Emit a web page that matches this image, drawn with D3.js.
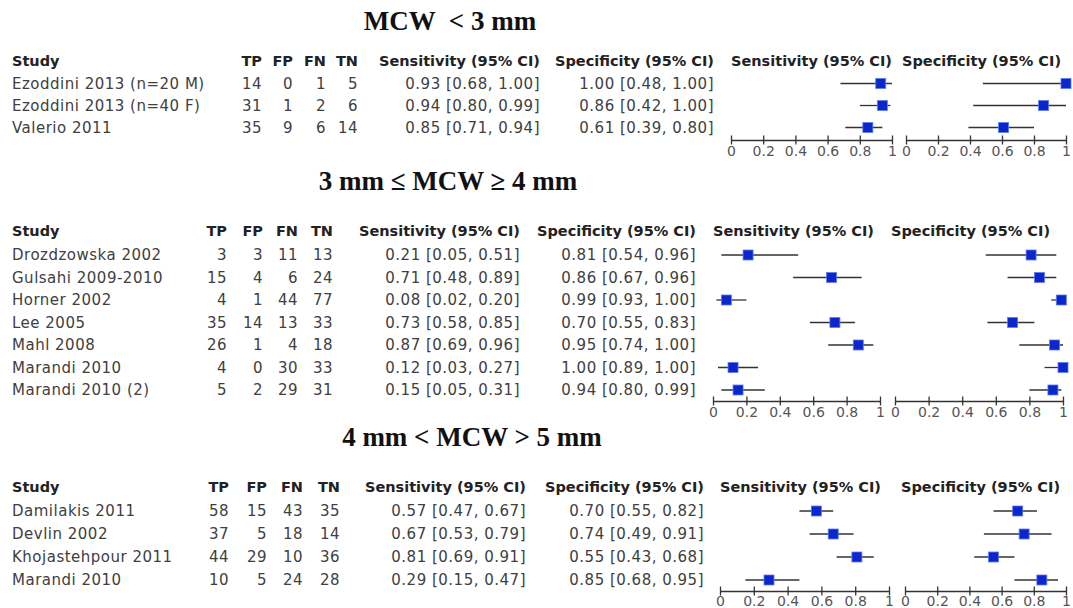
<!DOCTYPE html>
<html>
<head>
<meta charset="UTF-8">
<title>Forest plots by MCW</title>
<style>
  body { margin: 0; background: #fff; overflow: hidden; }
  .title { font-family: "Liberation Serif", serif; font-weight: bold; font-size: 27px; fill: #111; }
  .cell { font-family: "DejaVu Sans", sans-serif; font-size: 15px; letter-spacing: 0.5px; fill: #404040; }
  .head { font-family: "DejaVu Sans", sans-serif; font-size: 14.5px; font-weight: bold; fill: #222; }
  .tick text { font-family: "DejaVu Sans", sans-serif; font-size: 14px; }
  .ci { stroke: #333; stroke-width: 1.3; }
  .box { fill: #0a26cc; stroke: #5d7cf2; stroke-width: 0.8; }
</style>
</head>
<body>
<svg id="chart"></svg>
<script src="https://d3js.org/d3.v7.min.js"></script>
<script>
const width = 1073, height = 608;

const titles = ["MCW  < 3 mm", "3 mm \u2264 MCW \u2265 4 mm", "4 mm < MCW > 5 mm"];
const headers = ["Study", "TP", "FP", "FN", "TN", "Sensitivity (95% CI)", "Specificity (95% CI)"];
const ticks = [0, 0.2, 0.4, 0.6, 0.8, 1];

// section 1: MCW < 3 mm
const studies1 = ["Ezoddini 2013 (n=20 M)", "Ezoddini 2013 (n=40 F)", "Valerio 2011"];
const tp1 = [14, 31, 35], fp1 = [0, 1, 9], fn1 = [1, 2, 6], tn1 = [5, 6, 14];
const sens1 = [0.93, 0.94, 0.85], sensLo1 = [0.68, 0.80, 0.71], sensHi1 = [1.00, 0.99, 0.94];
const spec1 = [1.00, 0.86, 0.61], specLo1 = [0.48, 0.42, 0.39], specHi1 = [1.00, 1.00, 0.80];

// section 2: 3 mm <= MCW >= 4 mm
const studies2 = ["Drozdzowska 2002", "Gulsahi 2009-2010", "Horner 2002", "Lee 2005", "Mahl 2008", "Marandi 2010", "Marandi 2010 (2)"];
const tp2 = [3, 15, 4, 35, 26, 4, 5], fp2 = [3, 4, 1, 14, 1, 0, 2], fn2 = [11, 6, 44, 13, 4, 30, 29], tn2 = [13, 24, 77, 33, 18, 33, 31];
const sens2 = [0.21, 0.71, 0.08, 0.73, 0.87, 0.12, 0.15], sensLo2 = [0.05, 0.48, 0.02, 0.58, 0.69, 0.03, 0.05], sensHi2 = [0.51, 0.89, 0.20, 0.85, 0.96, 0.27, 0.31];
const spec2 = [0.81, 0.86, 0.99, 0.70, 0.95, 1.00, 0.94], specLo2 = [0.54, 0.67, 0.93, 0.55, 0.74, 0.89, 0.80], specHi2 = [0.96, 0.96, 1.00, 0.83, 1.00, 1.00, 0.99];

// section 3: 4 mm < MCW > 5 mm
const studies3 = ["Damilakis 2011", "Devlin 2002", "Khojastehpour 2011", "Marandi 2010"];
const tp3 = [58, 37, 44, 10], fp3 = [15, 5, 29, 5], fn3 = [43, 18, 10, 24], tn3 = [35, 14, 36, 28];
const sens3 = [0.57, 0.67, 0.81, 0.29], sensLo3 = [0.47, 0.53, 0.69, 0.15], sensHi3 = [0.67, 0.79, 0.91, 0.47];
const spec3 = [0.70, 0.74, 0.55, 0.85], specLo3 = [0.55, 0.49, 0.43, 0.68], specHi3 = [0.82, 0.91, 0.68, 0.95];

const sections = [
  { studies: studies1, tp: tp1, fp: fp1, fn: fn1, tn: tn1, sens: sens1, sensLo: sensLo1, sensHi: sensHi1, spec: spec1, specLo: specLo1, specHi: specHi1 },
  { studies: studies2, tp: tp2, fp: fp2, fn: fn2, tn: tn2, sens: sens2, sensLo: sensLo2, sensHi: sensHi2, spec: spec2, specLo: specLo2, specHi: specHi2 },
  { studies: studies3, tp: tp3, fp: fp3, fn: fn3, tn: tn3, sens: sens3, sensLo: sensLo3, sensHi: sensHi3, spec: spec3, specLo: specLo3, specHi: specHi3 }
];

// where each panel sits (the three panels were pasted together, so they differ a bit)
const layout = [
  { titleX: 450, titleY: 30, headY: 61, rowY: 83.5, step: 22, axisY: 140, pad: 6,
    cols: [12, 262, 293, 326, 358, 540, 714], sensX: [731, 892], specX: [906, 1066] },
  { titleX: 448, titleY: 190, headY: 231, rowY: 255, step: 22.5, axisY: 401, pad: 6,
    cols: [12, 227, 263, 298, 333, 520, 696], sensX: [713, 880], specX: [895, 1063] },
  { titleX: 472, titleY: 446, headY: 487, rowY: 511, step: 23, axisY: 591, pad: 5,
    cols: [12, 229, 267, 303, 340, 526, 704], sensX: [720, 889], specX: [905, 1066] }
];

const svg = d3.select("#chart").attr("width", width).attr("height", height);
const fmt = d3.format(".2f");

sections.forEach((s, k) => {
  const L = layout[k];
  const g = svg.append("g");
  const y = i => L.rowY + i * L.step;

  g.append("text").attr("class", "title")
    .attr("x", L.titleX).attr("y", L.titleY)
    .attr("text-anchor", "middle").style("white-space", "pre")
    .text(titles[k]);

  // table headers
  headers.forEach((h, j) => {
    g.append("text").attr("class", "head")
      .attr("x", L.cols[j]).attr("y", L.headY).attr("dy", "0.35em")
      .attr("text-anchor", j === 0 ? "start" : "end")
      .text(h);
  });
  g.append("text").attr("class", "head")
    .attr("x", L.sensX[0]).attr("y", L.headY).attr("dy", "0.35em").text(headers[5]);
  g.append("text").attr("class", "head")
    .attr("x", L.specX[0] - 4).attr("y", L.headY).attr("dy", "0.35em").text(headers[6]);

  // table rows
  const rows = s.studies.map((name, i) => [
    name, s.tp[i], s.fp[i], s.fn[i], s.tn[i],
    `${fmt(s.sens[i])} [${fmt(s.sensLo[i])}, ${fmt(s.sensHi[i])}]`,
    `${fmt(s.spec[i])} [${fmt(s.specLo[i])}, ${fmt(s.specHi[i])}]`
  ]);
  rows.forEach((r, i) => {
    r.forEach((v, j) => {
      g.append("text").attr("class", "cell")
        .attr("x", L.cols[j]).attr("y", y(i)).attr("dy", "0.35em")
        .attr("text-anchor", j === 0 ? "start" : "end")
        .text(v);
    });
  });

  // the two forest panels
  [["sens", L.sensX], ["spec", L.specX]].forEach(([key, range]) => {
    const x = d3.scaleLinear().domain([0, 1]).range(range);
    const axis = g.append("g")
      .attr("transform", `translate(0,${L.axisY})`)
      .call(d3.axisBottom(x).tickValues(ticks).tickSize(0).tickPadding(L.pad)
        .tickFormat(d3.format("~g")));
    axis.select(".domain").attr("stroke", "#333").attr("stroke-width", 1.3);
    axis.selectAll(".tick line").attr("y1", -4.5).attr("y2", 4.5)
      .attr("stroke", "#333").attr("stroke-width", 1.3);
    axis.selectAll(".tick text").attr("fill", "#555");

    s.studies.forEach((_, i) => {
      g.append("line").attr("class", "ci")
        .attr("x1", x(s[key + "Lo"][i])).attr("x2", x(s[key + "Hi"][i]))
        .attr("y1", y(i)).attr("y2", y(i));
      g.append("rect").attr("class", "box")
        .attr("x", x(s[key][i]) - 5).attr("y", y(i) - 5)
        .attr("width", 10).attr("height", 10);
    });
  });
});
</script>
</body>
</html>
